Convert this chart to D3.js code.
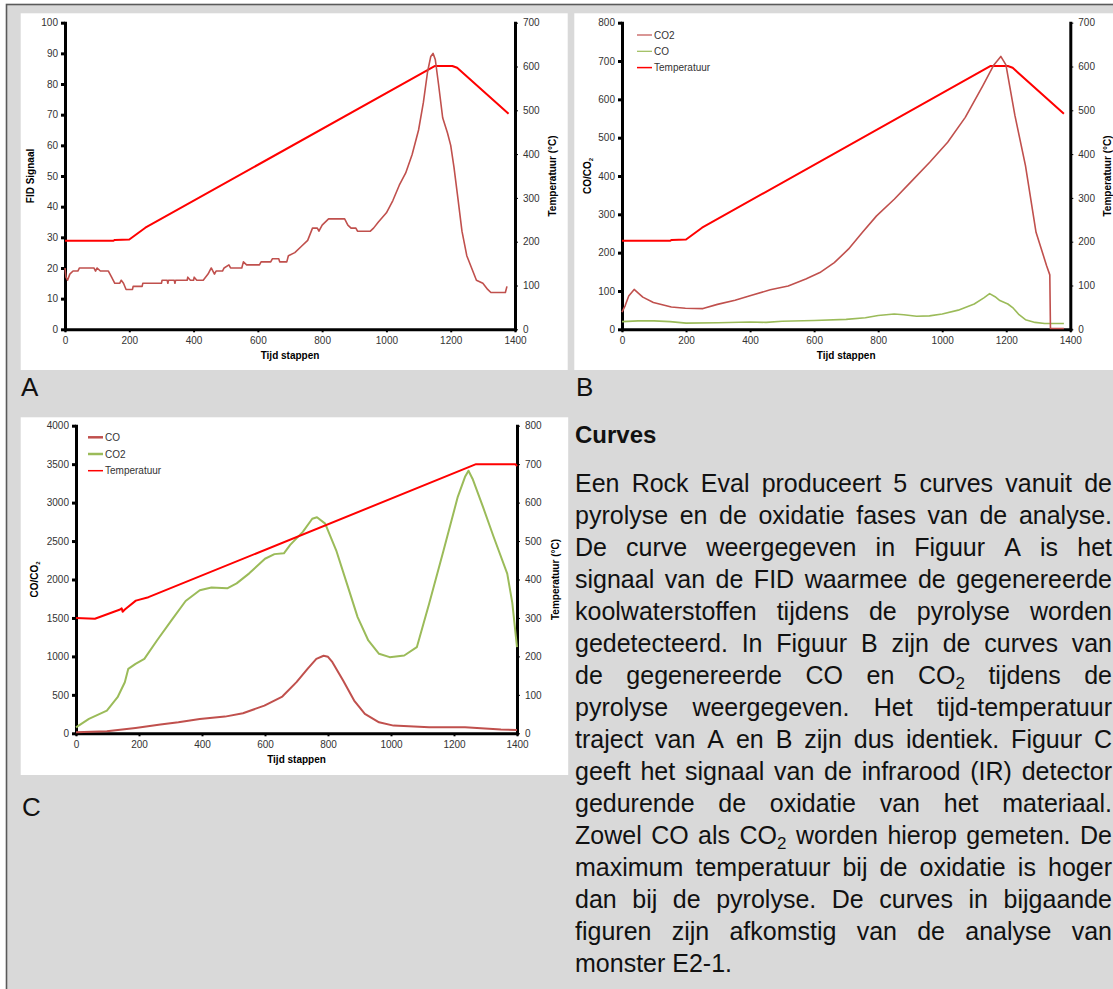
<!DOCTYPE html>
<html>
<head>
<meta charset="utf-8">
<script src="https://cdn.jsdelivr.net/npm/d3@7"></script>
<style>
  body { margin: 0; background: #fff; }
  svg { display: block; }
</style>
</head>
<body>
<svg id="fig" width="1113" height="989"></svg>
<script>
var FONT = "'Liberation Sans', Arial, Helvetica, sans-serif";

//data - panel A (pyrolyse, FID)
var fidSignal = [[0,20],[3,17],[8,16],[15,18],[25,19],[40,19],[45,20],[90,20],[95,19],[100,20],[110,19],[135,19],[145,17],[155,15],[170,15],[175,16],[182,15],[190,13],[210,13],[212,14],[240,14],[242,15],[300,15],[302,16],[318,16],[320,15],[322,16],[340,16],[342,15],[344,16],[380,16],[382,17],[390,16],[400,16],[402,17],[410,16],[430,16],[445,18],[455,20],[465,18],[470,19],[490,19],[495,20],[510,21],[515,20],[550,20],[555,22],[565,21],[605,21],[610,22],[640,22],[645,23],[665,23],[668,22],[690,22],[695,24],[715,25],[735,27],[755,29],[770,33],[785,33],[790,32],[800,34],[820,36],[870,36],[880,34],[890,33],[905,33],[910,32],[950,32],[960,33],[975,35],[1000,38],[1020,42],[1040,47],[1060,51],[1080,57],[1100,65],[1115,74],[1128,84],[1138,89],[1145,90],[1152,88],[1162,80],[1175,69],[1190,64],[1200,60],[1210,53],[1222,43],[1235,32],[1250,24],[1265,20],[1280,16],[1300,15],[1315,13],[1325,12],[1370,12],[1375,14]];
var tempPyro = [[0,202],[150,202],[155,204],[200,205],[250,232],[1150,601],[1205,601],[1220,597],[1380,492]];

//data - panel B (pyrolyse, CO / CO2)
var co2Pyro = [[0,45],[10,62],[21,87],[38,104],[50,95],[65,84],[98,70],[154,58],[198,55],[253,54],[298,65],[353,76],[397,87],[463,103],[519,113],[574,131],[618,148],[663,174],[707,209],[751,253],[795,296],[851,340],[906,388],[961,436],[1017,488],[1072,553],[1127,636],[1160,688],[1183,712],[1199,690],[1227,558],[1260,427],[1293,253],[1326,166],[1336,142],[1338,2],[1380,2]];
var coPyro = [[0,20],[50,22],[100,22],[150,20],[200,16],[300,17],[400,19],[450,18],[500,21],[600,23],[700,26],[760,30],[800,36],[850,40],[880,38],[920,34],[960,35],[1000,40],[1050,50],[1100,66],[1130,82],[1148,93],[1165,85],[1180,75],[1205,66],[1222,55],[1240,38],[1260,25],[1290,18],[1320,15],[1380,15]];

//data - panel C (oxidatie)
var coOxi = [[0,13],[98,26],[189,70],[268,113],[325,143],[393,187],[473,217],[530,261],[598,360],[655,478],[700,665],[735,838],[763,968],[786,1008],[800,995],[814,925],[848,686],[883,426],[917,252],[962,143],[1008,100],[1121,78],[1235,78],[1349,48],[1400,43]];
var co2Oxi = [[0,78],[41,187],[98,295],[132,469],[155,664],[166,838],[189,903],[217,968],[257,1207],[303,1468],[348,1720],[393,1860],[430,1895],[480,1885],[510,1950],[550,2080],[600,2270],[630,2330],[660,2340],[680,2450],[720,2620],[750,2790],[765,2810],[791,2727],[826,2380],[860,1946],[894,1511],[928,1207],[962,1034],[996,990],[1042,1012],[1082,1120],[1121,1685],[1167,2380],[1212,3075],[1235,3335],[1246,3415],[1260,3300],[1292,2944],[1326,2553],[1369,2076],[1385,1700],[1400,1120]];
var tempOxi = [[0,300],[60,298],[140,322],[145,325],[148,316],[155,322],[190,345],[230,354],[1270,700],[1395,700],[1400,695]];

//tick values
var xTicks = [0, 200, 400, 600, 800, 1000, 1200, 1400];
var fidTicks = [0, 10, 20, 30, 40, 50, 60, 70, 80, 90, 100];
var gasTicksB = [0, 100, 200, 300, 400, 500, 600, 700, 800];
var gasTicksC = [0, 500, 1000, 1500, 2000, 2500, 3000, 3500, 4000];
var tempTicks700 = [0, 100, 200, 300, 400, 500, 600, 700];
var tempTicks800 = [0, 100, 200, 300, 400, 500, 600, 700, 800];

//legend labels
var legendB = ["CO2", "CO", "Temperatuur"];
var legendC = ["CO", "CO2", "Temperatuur"];

//text block
var heading = "Curves";
var bodyLines = [
  "Een Rock Eval produceert 5 curves vanuit de",
  "pyrolyse en de oxidatie fases van de analyse.",
  "De curve weergegeven in Figuur A is het",
  "signaal van de FID waarmee de gegenereerde",
  "koolwaterstoffen tijdens de pyrolyse worden",
  "gedetecteerd. In Figuur B zijn de curves van",
  "de gegenereerde CO en CO{2} tijdens de",
  "pyrolyse weergegeven. Het tijd-temperatuur",
  "traject van A en B zijn dus identiek. Figuur C",
  "geeft het signaal van de infrarood (IR) detector",
  "gedurende de oxidatie van het materiaal.",
  "Zowel CO als CO{2} worden hierop gemeten. De",
  "maximum temperatuur bij de oxidatie is hoger",
  "dan bij de pyrolyse. De curves in bijgaande",
  "figuren zijn afkomstig van de analyse van",
  "monster E2-1."
];

var RED = "#ff0000", BROWN = "#c0504d", GREEN = "#9bbb59";

const svg = d3.select("#fig").style("font-family", FONT);

//grey frame + white chart areas
svg.append("rect")
  .attr("x", 6.5).attr("y", 4.5)
  .attr("width", 1120).attr("height", 1000)
  .attr("fill", "#d9d9d9")
  .attr("stroke", "#5a5a5a")
  .attr("stroke-width", 1.6);

[[20.7, 13.3, 547, 356.7], [574.3, 13.3, 545, 356.7], [20.7, 417.3, 547.5, 357.7]].forEach(function (r) {
  svg.append("rect").attr("x", r[0]).attr("y", r[1]).attr("width", r[2]).attr("height", r[3]).attr("fill", "#fff");
});

//panel letters
[["A", 21, 396], ["B", 576, 396], ["C", 22, 816]].forEach(function (l) {
  svg.append("text").attr("x", l[1]).attr("y", l[2])
    .attr("font-size", 26).attr("fill", "#111").text(l[0]);
});

// append text with {sub} parts as subscripts (shift back on the next part)
function richText(sel, str, subSize, shift) {
  var pending = 0;
  str.split(/(\{[^}]*\})/).forEach(function (part) {
    if (!part) return;
    if (part[0] === "{") {
      sel.append("tspan").attr("font-size", subSize).attr("dy", shift).text(part.slice(1, -1));
      pending = -shift;
    } else {
      sel.append("tspan").attr("dy", pending || null).text(part);
      pending = 0;
    }
  });
  return sel;
}

function drawPanel(p) {
  const g = svg.append("g");
  var x = d3.scaleLinear().domain([0, 1400]).range([p.left, p.right]);
  var yL = d3.scaleLinear().domain([0, p.yMax]).range([p.bottom, p.top]);
  var yR = d3.scaleLinear().domain([0, p.tMax]).range([p.bottom, p.top]);
  var fmt = d3.format("d");

  function style(ax, tickW) {
    ax.attr("font-family", FONT).attr("font-size", 10);
    ax.select(".domain").attr("stroke", "#000").attr("stroke-width", 3).attr("stroke-linecap", "square");
    ax.selectAll(".tick line").attr("stroke", "#000").attr("stroke-width", tickW);
    ax.selectAll(".tick text").attr("fill", "#333");
  }

  g.append("g").attr("transform", "translate(0," + p.bottom + ")")
    .call(d3.axisBottom(x).tickValues(xTicks).tickFormat(fmt).tickSize(3).tickSizeOuter(0).tickPadding(5))
    .call(style, 2);
  g.append("g").attr("transform", "translate(" + p.left + ",0)")
    .call(d3.axisLeft(yL).tickValues(p.yTicks).tickFormat(fmt).tickSize(4).tickSizeOuter(0).tickPadding(3))
    .call(style, 3);
  g.append("g").attr("transform", "translate(" + p.right + ",0)")
    .call(d3.axisRight(yR).tickValues(p.tTicks).tickFormat(fmt).tickSize(3).tickSizeOuter(0).tickPadding(5))
    .call(style, 1);

  //axis titles
  g.append("text")
    .attr("x", (p.left + p.right) / 2).attr("y", p.xTitleY)
    .attr("text-anchor", "middle").attr("font-size", 10).attr("font-weight", "bold")
    .text("Tijd stappen");
  var mid = (p.top + p.bottom) / 2;
  richText(g.append("text")
    .attr("transform", "translate(" + p.yTitleX + "," + mid + ") rotate(-90)")
    .attr("dy", "0.35em")
    .attr("text-anchor", "middle").attr("font-size", 10).attr("font-weight", "bold"), p.yTitle, 6, 2);
  g.append("text")
    .attr("transform", "translate(" + p.tTitleX + "," + mid + ") rotate(-90)")
    .attr("dy", "0.35em")
    .attr("text-anchor", "middle").attr("font-size", 10).attr("font-weight", "bold")
    .text("Temperatuur (\u00b0C)");

  //curves
  p.series.forEach(function (s) {
    var y = s.right ? yR : yL;
    var line = d3.line().x(function (d) { return x(d[0]); }).y(function (d) { return y(d[1]); });
    g.append("path")
      .datum(s.data)
      .attr("d", line)
      .attr("fill", "none")
      .attr("stroke", s.color)
      .attr("stroke-width", s.width)
      .attr("stroke-linejoin", "round");
  });

  //legend
  if (p.legend) {
    p.legend.labels.forEach(function (lab, i) {
      var s = p.legend.styles[i];
      var yy = p.legend.y + i * p.legend.step;
      g.append("line")
        .attr("x1", p.legend.x).attr("x2", p.legend.x + 15)
        .attr("y1", yy).attr("y2", yy)
        .attr("stroke", s.color).attr("stroke-width", s.width);
      g.append("text")
        .attr("x", p.legend.x + 17).attr("y", yy).attr("dy", "0.35em")
        .attr("font-size", 10).attr("fill", "#333")
        .text(lab);
    });
  }
}

drawPanel({
  left: 65, right: 515, top: 22.7, bottom: 329.3,
  yMax: 100, yTicks: fidTicks, tMax: 700, tTicks: tempTicks700,
  yTitle: "FID Signaal", yTitleX: 30.5, tTitleX: 552, xTitleY: 359,
  series: [
    { data: tempPyro, color: RED, width: 2, right: true },
    { data: fidSignal, color: BROWN, width: 1.6 }
  ]
});

drawPanel({
  left: 622, right: 1070.3, top: 22.7, bottom: 329.3,
  yMax: 800, yTicks: gasTicksB, tMax: 700, tTicks: tempTicks700,
  yTitle: "CO/CO{2}", yTitleX: 587.5, tTitleX: 1107.5, xTitleY: 359,
  series: [
    { data: tempPyro, color: RED, width: 2, right: true },
    { data: coPyro, color: GREEN, width: 1.6 },
    { data: co2Pyro, color: BROWN, width: 1.6 }
  ],
  legend: { x: 637, y: 35, step: 16.3, labels: legendB,
    styles: [{ color: BROWN, width: 1.2 }, { color: GREEN, width: 1.2 }, { color: RED, width: 1.5 }] }
});

drawPanel({
  left: 76, right: 517, top: 425.7, bottom: 733.3,
  yMax: 4000, yTicks: gasTicksC, tMax: 800, tTicks: tempTicks800,
  yTitle: "CO/CO{2}", yTitleX: 34, tTitleX: 555, xTitleY: 763,
  series: [
    { data: co2Oxi, color: GREEN, width: 2 },
    { data: coOxi, color: BROWN, width: 2 },
    { data: tempOxi, color: RED, width: 2, right: true }
  ],
  legend: { x: 88, y: 437.3, step: 16.7, labels: legendC,
    styles: [{ color: BROWN, width: 2.5 }, { color: GREEN, width: 2.5 }, { color: RED, width: 1.5 }] }
});

//text block, justified line by line
var TX = 575, TW = 537;
svg.append("text").attr("x", TX).attr("y", 443)
  .attr("font-size", 24).attr("font-weight", "bold").attr("fill", "#111")
  .text(heading);

var body = svg.append("g").attr("font-size", 25).attr("fill", "#111");
bodyLines.forEach(function (ln, i) {
  var y = 492 + i * 32;
  var words = ln.split(" ");
  var nodes = words.map(function (w) {
    return richText(body.append("text").attr("y", y), w, 17, 5);
  });
  var widths = nodes.map(function (n) { return n.node().getComputedTextLength(); });
  var total = d3.sum(widths);
  var last = i === bodyLines.length - 1;
  var gap = last ? 6.95 : (TW - total) / (words.length - 1);
  var cx = TX;
  nodes.forEach(function (n, k) {
    n.attr("x", cx);
    cx += widths[k] + gap;
  });
});
</script>
</body>
</html>
